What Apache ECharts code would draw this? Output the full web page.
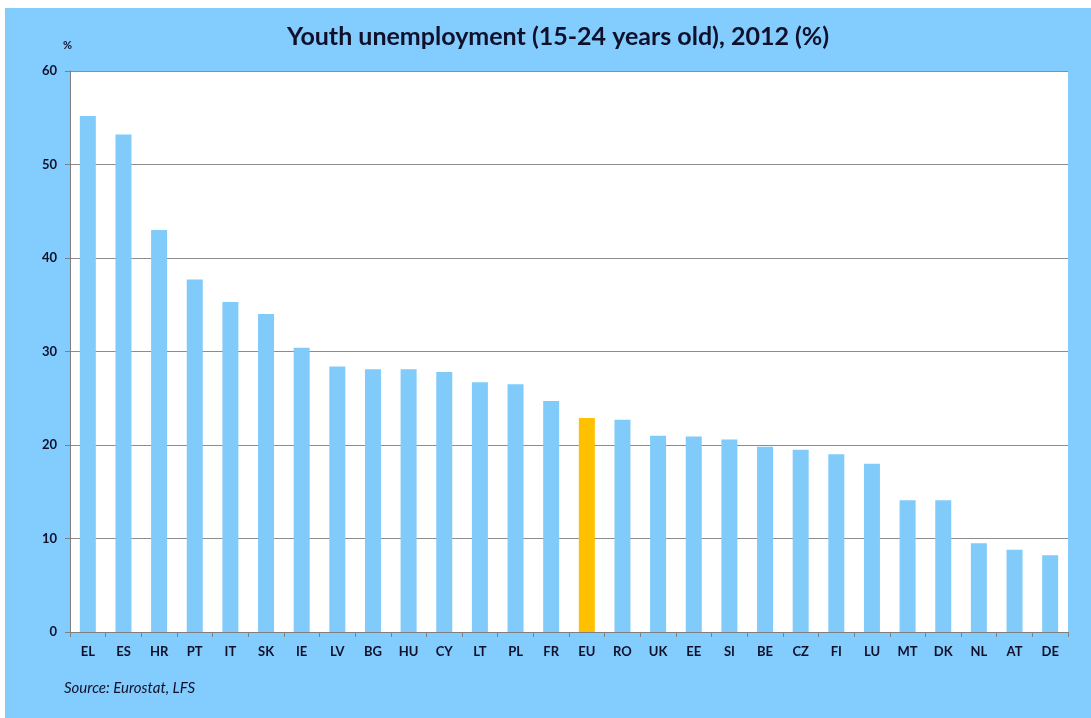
<!DOCTYPE html>
<html>
<head>
<meta charset="utf-8">
<script src="https://cdn.jsdelivr.net/npm/echarts@6/dist/echarts.min.js"></script>
<style>
html,body{margin:0;padding:0;background:#ffffff;}
#chart{width:1091px;height:718px;}
</style>
</head>
<body>
<div id="chart"></div>
<script>
const categories = ["EL","ES","HR","PT","IT","SK","IE","LV","BG","HU","CY","LT","PL","FR","EU","RO","UK","EE","SI","BE","CZ","FI","LU","MT","DK","NL","AT","DE"];
const values = [55.2,53.2,43.0,37.7,35.3,34.0,30.4,28.4,28.1,28.1,27.8,26.7,26.5,24.7,22.9,22.7,21.0,20.9,20.6,19.8,19.5,19.0,18.0,14.1,14.1,9.5,8.8,8.2];
const highlight = "EU";
const yTicks = [0,10,20,30,40,50,60];

const FONT = "Lato, 'Open Sans', sans-serif";
const TEXT = "#10102a";
const BAR = "#80cbfa";
const HL = "#ffc000";

const chart = echarts.init(document.getElementById('chart'), null, {renderer:'canvas'});
chart.setOption({
  animation:false,
  backgroundColor:'#ffffff',
  graphic:[
    {type:'rect', z:-10, shape:{x:5,y:8,width:1086,height:710}, style:{fill:'#82ccfe'}},
    {type:'text', left:63, top:40, style:{text:'%', font:'bold 11px '+FONT, fill:TEXT}},
    {type:'text', left:64, top:681, style:{text:'Source: Eurostat, LFS', font:'italic 15px '+FONT, fill:TEXT}}
  ],
  title:{
    text:'Youth unemployment (15-24 years old), 2012 (%)',
    left:282, top:19,
    textStyle:{fontFamily:FONT, fontWeight:'bold', fontSize:25, color:TEXT}
  },
  grid:{left:70, right:23, top:71, bottom:86, show:true, backgroundColor:'#ffffff', borderWidth:0, containLabel:false},
  xAxis:{
    type:'category', data:categories,
    axisLine:{lineStyle:{color:'#7f7f7f', width:1}},
    axisTick:{show:true, alignWithLabel:false, length:5, lineStyle:{color:'#7f7f7f'}},
    axisLabel:{fontFamily:FONT, fontWeight:'bold', fontSize:13, color:TEXT, margin:13, interval:0}
  },
  yAxis:{
    type:'value', min:yTicks[0], max:yTicks[yTicks.length-1], interval:10,
    axisLine:{show:true, lineStyle:{color:'#7f7f7f', width:1}},
    axisTick:{show:true, length:5, lineStyle:{color:'#7f7f7f'}},
    splitLine:{show:true, lineStyle:{color:'#8c8c8c', width:1}},
    axisLabel:{fontFamily:FONT, fontWeight:'bold', fontSize:13, color:TEXT, margin:13}
  },
  series:[{
    type:'bar',
    barWidth:16,
    data:values.map((v,i)=>({value:v, itemStyle:{color: categories[i]===highlight ? HL : BAR}})),
    itemStyle:{color:BAR}
  }]
});
</script>
</body>
</html>
